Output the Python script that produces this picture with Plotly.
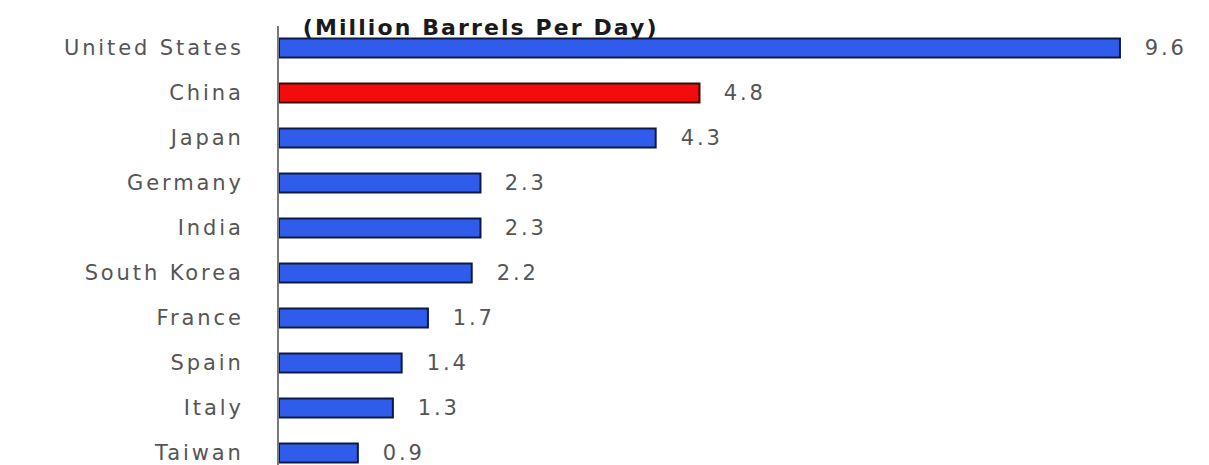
import plotly.graph_objects as go

countries = ["United States", "China", "Japan", "Germany", "India",
             "South Korea", "France", "Spain", "Italy", "Taiwan"]
values = [9.6, 4.8, 4.3, 2.3, 2.3, 2.2, 1.7, 1.4, 1.3, 0.9]
highlight = "China"

blue = "#2F5CEB"
red = "#F20C0C"
colors = [red if c == highlight else blue for c in countries]
edges = ["#3A0A0A" if c == highlight else "#0E1A45" for c in countries]

W, H = 1209, 465
left, top = 279, 26
px_per_cat = 45.0
first_center = 48.0

y_top = -(first_center - top) / px_per_cat
y_bot = (H - first_center) / px_per_cat

fig = go.Figure()
fig.add_trace(go.Bar(
    x=values, y=list(range(len(countries))), orientation="h",
    width=0.42,
    marker=dict(color=colors, line=dict(color=edges, width=2)),
    hoverinfo="skip",
))

for i, v in enumerate(values):
    fig.add_annotation(x=v, y=i, text=f"{v:.1f}", showarrow=False,
                       xanchor="left", yanchor="middle", xshift=27,
                       font=dict(family="DejaVu Sans", size=21, color="#555555"))

fig.add_annotation(x=0.024, y=1.0, xref="paper", yref="paper",
                   text="<b>(Million Barrels Per Day)</b>", showarrow=False,
                   xanchor="left", yanchor="middle", yshift=-1, xshift=26,
                   font=dict(family="DejaVu Sans", size=22, color="#1a1a1a"))

fig.update_layout(
    width=W, height=H,
    margin=dict(l=left, r=0, t=top, b=0, autoexpand=False),
    paper_bgcolor="white", plot_bgcolor="white",
    showlegend=False,
    xaxis=dict(range=[0, (W - left) / 87.6], visible=False, fixedrange=True),
    yaxis=dict(range=[y_bot, y_top],
               tickmode="array", tickvals=list(range(len(countries))),
               ticktext=countries, ticks="", showgrid=False, zeroline=False,
               showline=True, linecolor="#7a7a7a", linewidth=2,
               ticklabelstandoff=29, ticklabeloverflow="allow",
               tickfont=dict(family="DejaVu Sans", size=21, color="#555555")),
)

post = """
var gd = document.querySelector('.plotly-graph-div');
function spread(){
  gd.querySelectorAll('.ytick text').forEach(function(t){ t.style.letterSpacing='2.9px'; });
  gd.querySelectorAll('.annotation-text').forEach(function(t){
    if (t.textContent.indexOf('Million') >= 0) { t.style.letterSpacing='2.1px'; }
    else { t.style.letterSpacing='2.9px'; }
  });
}
spread();
gd.on('plotly_afterplot', spread);
"""

fig.write_html("out.html", post_script=post)
